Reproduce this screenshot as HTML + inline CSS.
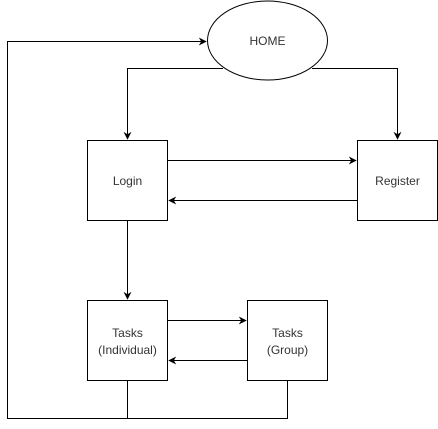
<!DOCTYPE html>
<html><head><style>
html,body{margin:0;padding:0;background:#fff;width:438px;height:429px;overflow:hidden}
text{font-family:"Liberation Sans",Arial,sans-serif;font-size:12px;fill:#333}
</style></head><body>
<svg width="438" height="429" viewBox="0 0 438 429" xmlns="http://www.w3.org/2000/svg">
<defs><marker id="a" viewBox="0 0 10 10" refX="9" refY="5" markerWidth="8" markerHeight="8" orient="auto" markerUnits="userSpaceOnUse"><path d="M0,0 L10,5 L0,10 L3,5 Z" fill="#000"/></marker></defs>
<g stroke="#000" stroke-width="1" fill="none">
<ellipse cx="267.5" cy="40.5" rx="60" ry="39.5" fill="#fff"/>
<rect x="87.5" y="140.5" width="80" height="80" fill="#fff"/>
<rect x="357.5" y="140.5" width="80" height="80" fill="#fff"/>
<rect x="87.5" y="300.5" width="80" height="80" fill="#fff"/>
<rect x="247.5" y="300.5" width="80" height="80" fill="#fff"/>
<path d="M223,68.5 H127.5 V139" marker-end="url(#a)"/>
<path d="M312,68.5 H397.5 V139" marker-end="url(#a)"/>
<path d="M167.5,160.5 H356" marker-end="url(#a)"/>
<path d="M357.5,200.5 H169" marker-end="url(#a)"/>
<path d="M127.5,220.5 V299" marker-end="url(#a)"/>
<path d="M167.5,320.5 H246" marker-end="url(#a)"/>
<path d="M247.5,360.5 H169" marker-end="url(#a)"/>
<path d="M127.5,380.5 V418.5 H7.5 V41.5 H206" marker-end="url(#a)"/>
<path d="M287.5,380.5 V418.5 H127.5"/>
</g>
<text x="267.5" y="45" text-anchor="middle">HOME</text>
<text x="127.5" y="185" text-anchor="middle">Login</text>
<text x="397.5" y="185" text-anchor="middle">Register</text>
<text x="127.5" y="337" text-anchor="middle">Tasks</text>
<text x="127.5" y="354" text-anchor="middle">(Individual)</text>
<text x="287.5" y="337" text-anchor="middle">Tasks</text>
<text x="287.5" y="354" text-anchor="middle">(Group)</text>
</svg>
</body></html>
